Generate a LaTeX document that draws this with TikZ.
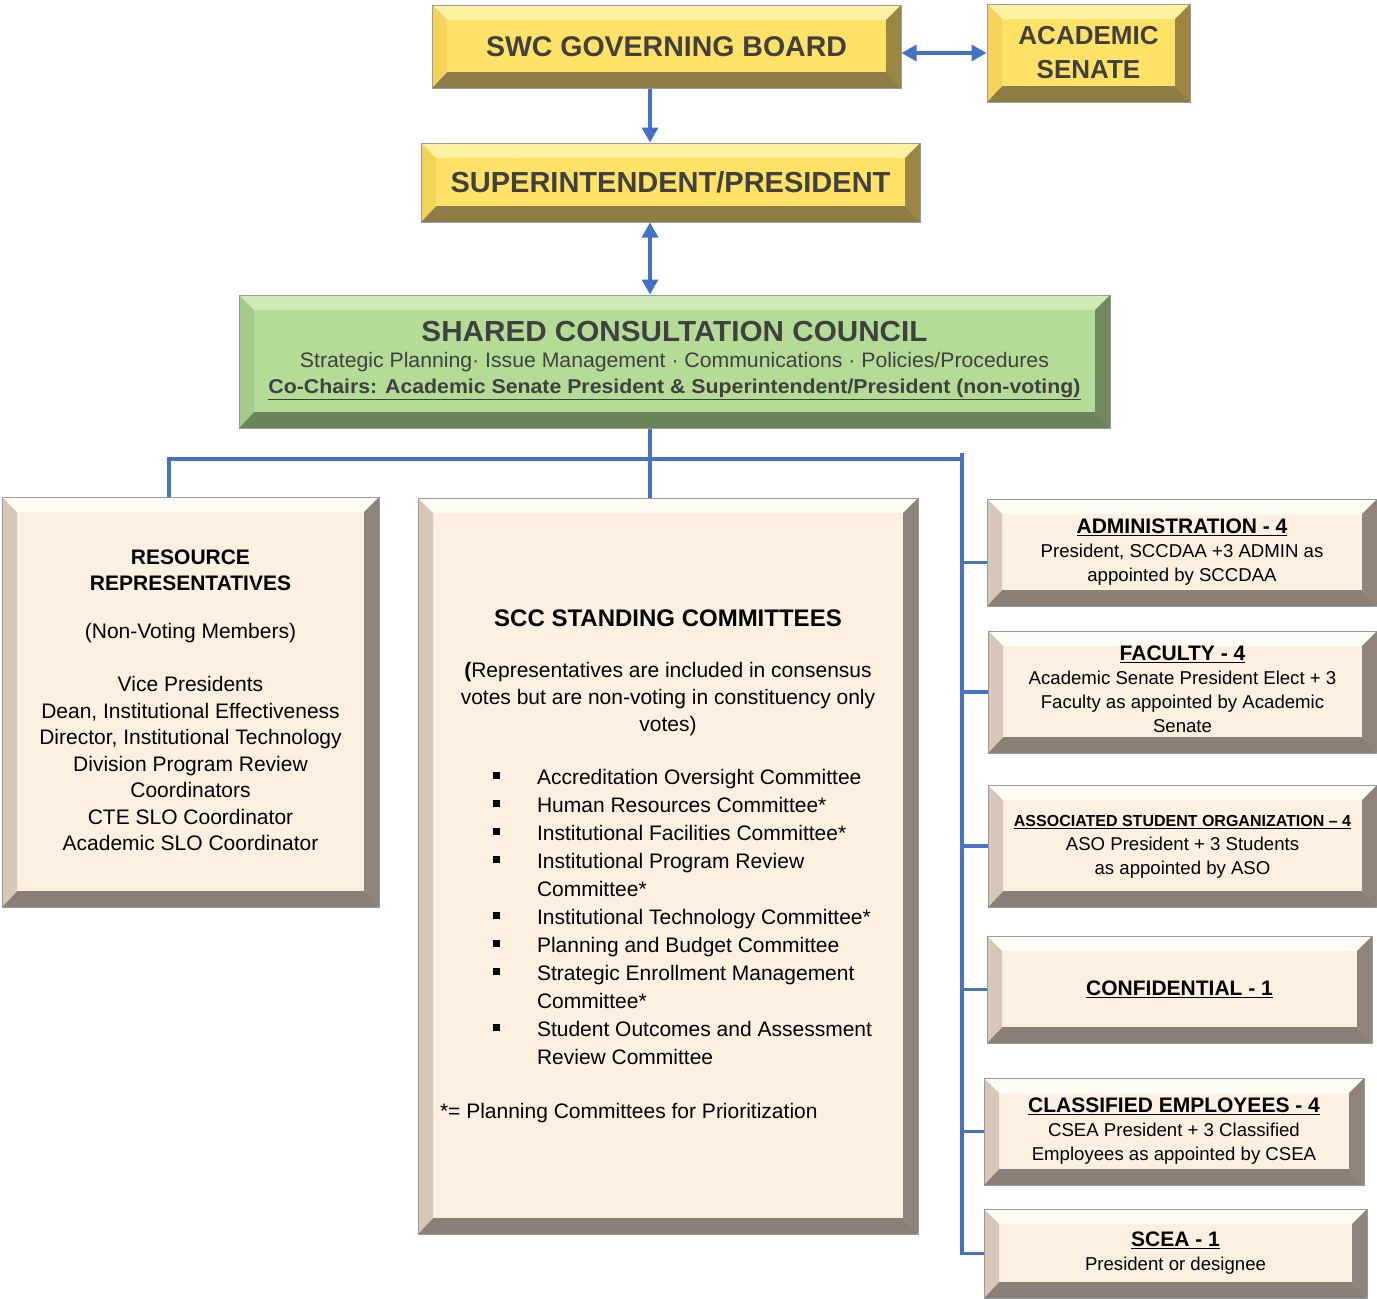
\documentclass[tikz,border=0pt]{standalone}
\usepackage{fontspec}
\setmainfont{Liberation Sans}
\usepackage{graphicx}
\usetikzlibrary{arrows.meta}
\definecolor{conn}{HTML}{4472C4}
\definecolor{outl}{HTML}{9A9A9A}
\definecolor{txtgray}{HTML}{404040}
\definecolor{yF}{HTML}{FFE266}
\definecolor{yT}{HTML}{FFF1A2}
\definecolor{yL}{HTML}{F5D35A}
\definecolor{yR}{HTML}{9C8642}
\definecolor{yB}{HTML}{8E7C46}
\definecolor{gF}{HTML}{B4DC97}
\definecolor{gT}{HTML}{CEEAB8}
\definecolor{gL}{HTML}{A6CC8A}
\definecolor{gR}{HTML}{6F8A5C}
\definecolor{gB}{HTML}{6A8557}
\definecolor{cF}{HTML}{FEF0E1}
\definecolor{cT}{HTML}{FFFBF5}
\definecolor{cL}{HTML}{D8C7B7}
\definecolor{cR}{HTML}{8F847B}
\definecolor{cB}{HTML}{8B8078}
\newcommand\fs[2]{\fontsize{#1}{#2}\selectfont}
\newcommand\ttl[1]{{\fs{21}{24}\bfseries\underline{#1}}}
\newcommand\bitem[1]{\hspace*{60pt}\makebox[44pt][l]{\rule[5pt]{7pt}{7pt}}#1\par}
\newcommand\bcont[1]{\hspace*{104pt}#1\par}
\tikzset{
  bevel/.style n args={4}{path picture={
    \path (path picture bounding box.north west) coordinate (pA)
          (path picture bounding box.north east) coordinate (pB)
          (path picture bounding box.south east) coordinate (pC)
          (path picture bounding box.south west) coordinate (pD);
    \fill[#1] (pA) -- (pB) -- ([shift={(-15pt,-15pt)}]pB) -- ([shift={(15pt,-15pt)}]pA) -- cycle;
    \fill[#3] (pB) -- (pC) -- ([shift={(-15pt,16pt)}]pC) -- ([shift={(-15pt,-15pt)}]pB) -- cycle;
    \fill[#4] (pC) -- (pD) -- ([shift={(15pt,16pt)}]pD) -- ([shift={(-15pt,16pt)}]pC) -- cycle;
    \fill[#2] (pD) -- (pA) -- ([shift={(15pt,-15pt)}]pA) -- ([shift={(15pt,16pt)}]pD) -- cycle;
  }},
  box/.style={draw=outl, line width=1pt, inner sep=0pt},
  ybox/.style={box, fill=yF, bevel={yT}{yL}{yR}{yB}, text=txtgray, font=\bfseries\fs{28.5}{34}},
  gbox/.style={box, fill=gF, bevel={gT}{gL}{gR}{gB}, text=txtgray, font=\fs{19}{27}},
  cbox/.style={box, fill=cF, bevel={cT}{cL}{cR}{cB}, text=black, font=\fs{18.6}{24}},
  link/.style={draw=conn, line width=3.3pt},
  tip/.tip={Triangle[length=15pt,width=16pt]}
}
\begin{document}
\begin{tikzpicture}[x=1pt,y=-1pt]
\useasboundingbox (0,0) rectangle (1377,1299);
% top boxes
\node[ybox, minimum width=469, minimum height=83] (board) at (666.5,46.5) {SWC GOVERNING BOARD};
\node[ybox, minimum width=203, minimum height=98, font=\bfseries\fs{26}{34}, align=center] (senate) at (1088.5,53) {ACADEMIC\\SENATE};
\node[ybox, minimum width=499, minimum height=79, font=\bfseries\fs{29}{34}] (super) at (670.5,182.5) {SUPERINTENDENT/PRESIDENT};
\node[gbox, minimum width=871, minimum height=133] (scc) at (674.5,361.5) {\begin{tabular}{@{}c@{}}
\resizebox{506pt}{\height}{\fs{29}{28}\bfseries SHARED CONSULTATION COUNCIL}\\[-1pt]
\resizebox{749pt}{\height}{\fs{21}{27}Strategic Planning· Issue Management · Communications · Policies/Procedures}\\[-1pt]
\resizebox{812pt}{\height}{\fs{20}{27}\bfseries\underline{Co-Chairs: Academic Senate President \& Superintendent/President (non-voting)}}
\end{tabular}};
% left box
\node[cbox, minimum width=377, minimum height=410, font=\fs{21}{26.5}] (res) at (190.5,702) {\begin{tabular}{@{}c@{}}
\textbf{RESOURCE}\\
\textbf{REPRESENTATIVES}\\[21.5pt]
(Non-Voting Members)\\[26.5pt]
Vice Presidents\\
Dean, Institutional Effectiveness\\
Director, Institutional Technology\\
Division Program Review\\
Coordinators\\
CTE SLO Coordinator\\
Academic SLO Coordinator
\end{tabular}};
% middle box
\node[cbox, minimum width=500, minimum height=736] (comm) at (668,866) {\begin{minipage}{470pt}
\fs{21}{27}\centering
{\fs{24}{27}\bfseries SCC STANDING COMMITTEES}\par
\vspace{24pt}
{\bfseries(}Representatives are included in consensus\\
votes but are non-voting in constituency only\\
votes)\par
\vspace{25pt}
\raggedright\fs{21}{28}
\bitem{Accreditation Oversight Committee}
\bitem{Human Resources Committee*}
\bitem{Institutional Facilities Committee*}
\bitem{Institutional Program Review}
\bcont{Committee*}
\bitem{Institutional Technology Committee*}
\bitem{Planning and Budget Committee}
\bitem{Strategic Enrollment Management}
\bcont{Committee*}
\bitem{Student Outcomes and Assessment}
\bcont{Review Committee}
\vspace{26pt}
\hspace*{7pt}*= Planning Committees for Prioritization\par
\end{minipage}};
% right boxes
\node[cbox, minimum width=390, minimum height=107] (admin) at (1182,552.5) {\begin{tabular}{@{}c@{}}
\ttl{ADMINISTRATION - 4}\\
President, SCCDAA +3 ADMIN as\\
appointed by SCCDAA
\end{tabular}};
\node[cbox, minimum width=389, minimum height=122] (fac) at (1182.5,692) {\begin{tabular}{@{}c@{}}
\ttl{FACULTY - 4}\\
Academic Senate President Elect + 3\\
Faculty as appointed by Academic\\
Senate
\end{tabular}};
\node[cbox, minimum width=389, minimum height=122] (aso) at (1182.5,846) {\begin{tabular}{@{}c@{}}
{\fs{16}{24}\bfseries\underline{ASSOCIATED STUDENT ORGANIZATION – 4}}\\
ASO President + 3 Students\\
as appointed by ASO
\end{tabular}};
\node[cbox, minimum width=385, minimum height=107] (conf) at (1179.5,989.5) {\raisebox{-3pt}{\ttl{CONFIDENTIAL - 1}}};
\node[cbox, minimum width=380, minimum height=107] (cls) at (1174,1131.5) {\begin{tabular}{@{}c@{}}
\ttl{CLASSIFIED EMPLOYEES - 4}\\
CSEA President + 3 Classified\\
Employees as appointed by CSEA
\end{tabular}};
\node[cbox, minimum width=383, minimum height=89] (scea) at (1175.5,1253.5) {\begin{tabular}{@{}c@{}}
\ttl{SCEA - 1}\\
President or designee
\end{tabular}};
% connectors
\coordinate (tx) at (650,0);
\coordinate (hy) at (0,53);
\coordinate (lx) at (169,0);
\coordinate (bus) at (962,459);
\coordinate (ttop) at (962,453);
\draw[link,-tip] (board.south -| tx) -- (super.north -| tx);
\draw[link,tip-tip] (board.east |- hy) -- (senate.west |- hy);
\draw[link,tip-tip] (super.south -| tx) -- (scc.north -| tx);
\draw[link] (scc.south -| tx) -- (comm.north -| tx);
\draw[link] (res.north -| lx) |- (bus);
\draw[link] (ttop) |- (scea.west);
\draw[link] (ttop |- admin.west) ++(0,10) -- ([yshift=-10pt]admin.west);
\draw[link] (ttop |- fac.west) -- (fac.west);
\draw[link] (ttop |- aso.west) -- (aso.west);
\draw[link] (ttop |- conf.west) -- (conf.west);
\draw[link] (ttop |- cls.west) -- (cls.west);
\end{tikzpicture}
\end{document}
